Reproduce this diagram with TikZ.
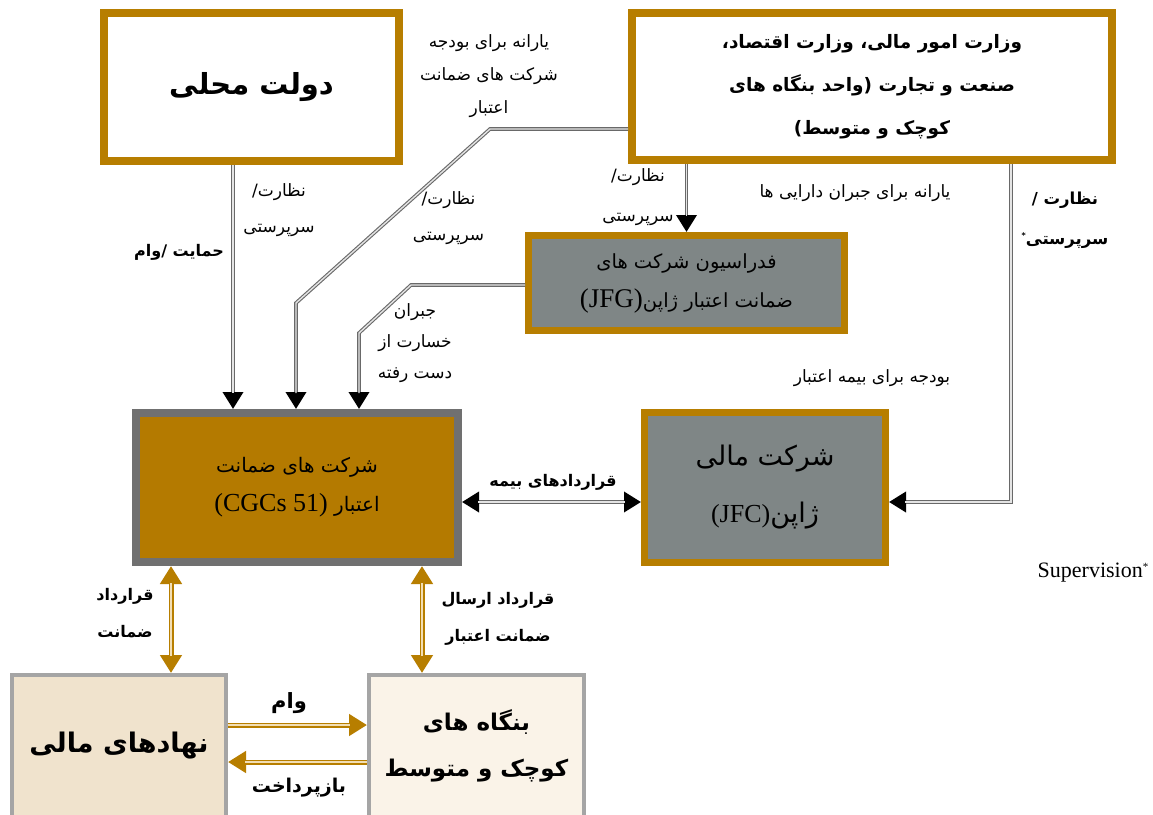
\documentclass[tikz,border=0pt]{standalone}
\usepackage{fontspec}
\setmainfont{Liberation Serif}
\newfontfamily\fa[Script=Arabic]{DejaVu Sans}
\TeXXeTstate=1
\usetikzlibrary{arrows.meta}
\usetikzlibrary{shadows}
\definecolor{goldc}{RGB}{183,126,0}
\definecolor{cgcfill}{RGB}{180,122,0}
\definecolor{slate}{RGB}{127,134,134}
\definecolor{cgcline}{RGB}{112,112,112}
\definecolor{fifill}{RGB}{240,227,205}
\definecolor{smefill}{RGB}{250,243,232}
\definecolor{boxline}{RGB}{165,165,165}
\definecolor{linkline}{RGB}{105,105,105}
\definecolor{linkmid}{RGB}{228,228,228}
\definecolor{goldmid}{RGB}{242,222,180}
\newcommand{\fatxt}[1]{\beginR#1\endR}
\newcommand{\lat}[1]{\beginL#1\endL}

\begin{document}
\begin{tikzpicture}[x=1pt, y=-1pt,
	shade/.style={drop shadow={shadow xshift=2pt, shadow yshift=-3pt, fill=black, opacity=0.18}},
	goldbox/.style={shade, draw=goldc, line width=8pt, fill=white, align=center, inner sep=0pt},
	slatebox/.style={shade, draw=goldc, line width=7pt, fill=slate, align=center, inner sep=0pt},
	lightbox/.style={shade, draw=boxline, line width=4pt, align=center, inner sep=0pt},
	lbl/.style={font=\fa\fontsize{17}{36}\selectfont, align=center},
	blbl/.style={font=\fa\bfseries\fontsize{16}{37}\selectfont, align=center},
	link/.style={draw=linkline, line width=3.6pt, -{Triangle[length=17pt,width=20pt,color=black]},
		postaction={draw=linkmid, line width=1.4pt, -, shorten >=16pt}},
	linkboth/.style={draw=linkline, line width=3.6pt, {Triangle[length=17pt,width=20pt,color=black]}-{Triangle[length=17pt,width=20pt,color=black]},
		postaction={draw=linkmid, line width=1.4pt, -, shorten >=16pt, shorten <=16pt}},
	goldlink/.style={draw=goldc, line width=5pt, -{Triangle[length=18pt,width=21pt]},
		postaction={draw=goldmid, line width=1.8pt, -, shorten >=17pt}},
	goldboth/.style={draw=goldc, line width=5pt, {Triangle[length=18pt,width=21pt]}-{Triangle[length=18pt,width=21pt]},
		postaction={draw=goldmid, line width=1.8pt, -, shorten >=17pt, shorten <=17pt}}]
	\useasboundingbox (0,0) rectangle (1153,814);
	\fill[white] (0,0) rectangle (1153,814);

	\node[goldbox, minimum width=295pt, minimum height=148pt, font=\fa\bfseries\fontsize{29}{36}\selectfont] (gov) at (251.5,87) {\fatxt{دولت محلی}};
	\node[goldbox, minimum width=480pt, minimum height=147pt, font=\fa\bfseries\fontsize{18.5}{43}\selectfont] (min) at (872,86.5)
		{\fatxt{وزارت امور مالی، وزارت اقتصاد،}\\\fatxt{صنعت و تجارت (واحد بنگاه های}\\\fatxt{کوچک و متوسط)}};
	\node[slatebox, minimum width=316pt, minimum height=95pt, font=\fa\fontsize{19.5}{39}\selectfont] (jfg) at (686.5,283)
		{\fatxt{فدراسیون شرکت های}\\\fatxt{ضمانت اعتبار ژاپن\lat{\rmfamily\fontsize{27}{39}\selectfont(JFG)}}};
	\node[shade, draw=cgcline, line width=8pt, fill=cgcfill, align=center, inner sep=0pt, minimum width=322pt, minimum height=149pt,
		font=\fa\fontsize{20}{39}\selectfont] (cgc) at (297,487.5)
		{\fatxt{شرکت های ضمانت}\\\fatxt{اعتبار \lat{\rmfamily\fontsize{26}{39}\selectfont(CGCs 51)}}};
	\node[slatebox, minimum width=241pt, minimum height=150pt, font=\fa\fontsize{27}{57}\selectfont] (jfc) at (765,487.5)
		{\fatxt{شرکت مالی}\\\fatxt{ژاپن\lat{\rmfamily\fontsize{26}{57}\selectfont(JFC)}}};
	\node[lightbox, fill=fifill, minimum width=214pt, minimum height=142pt, font=\fa\bfseries\fontsize{27}{30}\selectfont] (fi) at (119,746)
		{\fatxt{نهادهای مالی}};
	\node[lightbox, fill=smefill, minimum width=215pt, minimum height=142pt, font=\fa\bfseries\fontsize{23}{46}\selectfont] (sme) at (476.5,746)
		{\fatxt{بنگاه های}\\\fatxt{کوچک و متوسط}};

	\coordinate (mbend) at (490,129);
	\coordinate (mdrop) at (296,303);
	\coordinate (jbend) at (411,285);
	\coordinate (jdrop) at (359,333);

	\draw[link] ([xshift=-18.5pt]gov.south) -- ([xshift=-18.5pt]gov.south |- cgc.north);
	\draw[link] ([yshift=-42.5pt]min.west) -- (mbend) -- (mdrop) -- (mdrop |- cgc.north);
	\draw[link] ([yshift=-2pt]jfg.west) -- (jbend) -- (jdrop) -- (jdrop |- cgc.north);
	\draw[link] (min.south -| jfg.north) -- (jfg.north);
	\draw[link] ([xshift=139pt]min.south) |- ([yshift=-14.5pt]jfc.east);
	\draw[linkboth] ([yshift=-14.5pt]cgc.east) -- ([yshift=-14.5pt]cgc.east -| jfc.west);
	\draw[goldboth] ([xshift=-126pt]cgc.south) -- ([xshift=-126pt]cgc.south |- fi.north);
	\draw[goldboth] ([xshift=125pt]cgc.south) -- ([xshift=125pt]cgc.south |- sme.north);
	\draw[goldlink] ([yshift=21pt]fi.east) -- ([yshift=21pt]fi.east -| sme.west);
	\draw[goldlink] ([yshift=-16pt]sme.west) -- ([yshift=-16pt]sme.west -| fi.east);

	\node[lbl] (govsup) at (279,210.5) {\fatxt{نظارت/}\\\fatxt{سرپرستی}};
	\node[blbl] (govloan) at (179,252) {\fatxt{حمایت /وام}};
	\node[lbl, font=\fa\fontsize{17}{33}\selectfont] (subsidy) at (489,76) {\fatxt{یارانه برای بودجه}\\\fatxt{شرکت های ضمانت}\\\fatxt{اعتبار}};
	\node[lbl] (minsup) at (448.5,218.5) {\fatxt{نظارت/}\\\fatxt{سرپرستی}};
	\node[lbl, font=\fa\fontsize{17}{31}\selectfont] (loss) at (415,343) {\fatxt{جبران}\\\fatxt{خسارت از}\\\fatxt{دست رفته}};
	\node[lbl, font=\fa\fontsize{17}{40}\selectfont] (jfgsup) at (638,197) {\fatxt{نظارت/}\\\fatxt{سرپرستی}};
	\node[lbl] (assets) at (855,193) {\fatxt{یارانه برای جبران دارایی ها}};
	\node[blbl, font=\fa\bfseries\fontsize{16.5}{40}\selectfont] (jfcsup) at (1065,220) {\fatxt{نظارت /}\\\fatxt{سرپرستی\raisebox{6pt}{\fontsize{8}{8}\selectfont*}}};
	\node[lbl] (budget) at (872,378) {\fatxt{بودجه برای بیمه اعتبار}};
	\node[blbl] (insure) at (553,482) {\fatxt{قراردادهای بیمه}};
	\node[blbl] (guar) at (125,613.5) {\fatxt{قرارداد}\\\fatxt{ضمانت}};
	\node[blbl] (send) at (498,618.5) {\fatxt{قرارداد ارسال}\\\fatxt{ضمانت اعتبار}};
	\node[blbl, font=\fa\bfseries\fontsize{21}{22}\selectfont] (loan) at (289,703) {\fatxt{وام}};
	\node[blbl, font=\fa\bfseries\fontsize{19}{22}\selectfont] (repay) at (299,788) {\fatxt{بازپرداخت}};
	\node[font=\fontsize{22}{24}\selectfont] (note) at (1093,573) {Supervision\raisebox{7pt}{\fontsize{11}{11}\selectfont*}};
\end{tikzpicture}
\end{document}
